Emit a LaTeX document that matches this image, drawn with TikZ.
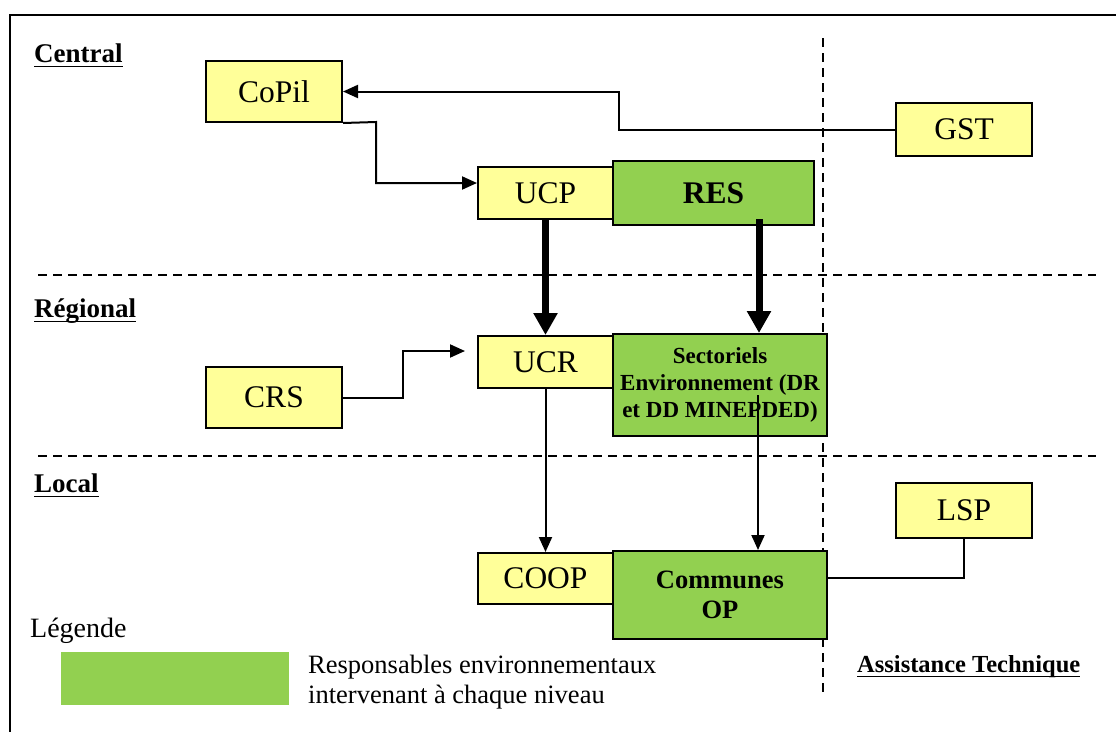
\documentclass[tikz,border=0pt]{standalone}
\usepackage{fontspec}
\setmainfont{Liberation Serif}
\usetikzlibrary{arrows.meta}
\definecolor{boxyellow}{HTML}{FFFF99}
\definecolor{boxgreen}{HTML}{92D050}
\begin{document}
\begin{tikzpicture}[x=1pt,y=-1pt,
  ybox/.style={draw=black,line width=2pt,fill=boxyellow,inner sep=0pt,font=\fontsize{31.5}{33}\selectfont},
  gbox/.style={draw=black,line width=2pt,fill=boxgreen,inner sep=0pt,align=center},
  thin arrow/.style={line width=2pt,-{Triangle[length=15pt,width=13pt]}},
  big arrow/.style={line width=7pt,-{Triangle[length=22pt,width=23pt]}},
  plain line/.style={line width=2pt},
  sep line/.style={line width=2pt,dash pattern=on 9pt off 6pt},
  level label/.style={anchor=base west,inner sep=0pt,font=\bfseries\fontsize{27}{30}\selectfont},
  body text/.style={anchor=base west,inner sep=0pt,font=\fontsize{26.5}{30}\selectfont}]
\useasboundingbox (0,0) rectangle (1116,731);
\fill[white] (0,0) rectangle (1116,731);
% outer frame
\draw[line width=2.2pt] (10,15) rectangle (1130,745);
% separators
\draw[sep line] (38,275) -- (1096,275);
\draw[sep line] (38,456) -- (1096,456);
\draw[sep line] (823,38) -- (823,692);
% level labels
\node[level label] (central) at (34,62) {Central};
\node[level label] (regional) at (34,317) {Régional};
\node[level label] (local) at (34,492) {Local};
\foreach \n in {central,regional,local}
  \draw[line width=1.8pt] ([yshift=-4.5pt]\n.base west) -- ([yshift=-4.5pt]\n.base east);
% boxes
\node[ybox,minimum width=136pt,minimum height=61pt] (copil) at (274,91.5) {CoPil};
\node[ybox,minimum width=136pt,minimum height=53pt] (gst) at (964,129.5) {GST};
\node[ybox,minimum width=135pt,minimum height=52pt] (ucp) at (545.5,193) {UCP};
\node[gbox,minimum width=201pt,minimum height=64pt,font=\bfseries\fontsize{31.5}{33}\selectfont] (res) at (713.5,193) {RES};
\node[ybox,minimum width=135pt,minimum height=52pt] (ucr) at (545.5,362) {UCR};
\node[gbox,minimum width=214pt,minimum height=102pt,font=\bfseries\fontsize{23}{27}\selectfont] (sect) at (720,385) {Sectoriels\\Environnement (DR\\et DD MINEPDED)};
\node[ybox,minimum width=136pt,minimum height=61pt] (crs) at (274,397.5) {CRS};
\node[ybox,minimum width=135pt,minimum height=51pt] (coop) at (545.5,578.5) {COOP};
\node[gbox,minimum width=214pt,minimum height=88pt,font=\bfseries\fontsize{26.5}{30}\selectfont] (communes) at (720,595) {Communes\\OP};
\node[ybox,minimum width=136pt,minimum height=55pt] (lsp) at (964,510.5) {LSP};
% connectors
\draw[thin arrow] (gst.west) -- (619,129.5) |- (copil.east);
\draw[thin arrow] (copil.south east) -- (376,122) |- ([yshift=10pt]ucp.west);
\draw[thin arrow,shorten >=12pt] (crs.east) -- (403,397.5) |- ([yshift=11pt]ucr.west);
\draw[big arrow] (ucp.south) -- (ucr.north);
\draw[big arrow] ([xshift=45.5pt,yshift=7pt]res.south) -- ([xshift=39pt]sect.north);
\draw[thin arrow] (ucr.south) -- (coop.north);
\draw[thin arrow] ([xshift=38pt,yshift=-10pt]sect.center) -- ([xshift=38pt]communes.north);
\draw[plain line] (lsp.south) |- ([yshift=17pt]communes.east);
% legend
\node[body text,font=\fontsize{28}{30}\selectfont] (legende) at (30,637) {Légende};
\fill[boxgreen] (61,652) rectangle (289,705);
\node[body text] (leg1) at (308,673) {Responsables environnementaux};
\node[body text] (leg2) at (308,703) {intervenant à chaque niveau};
\node[level label,font=\bfseries\fontsize{24.5}{26}\selectfont] (assist) at (857,672) {Assistance Technique};
\draw[line width=1.8pt] ([yshift=-4.5pt]assist.base west) -- ([yshift=-4.5pt]assist.base east);
\end{tikzpicture}
\end{document}
